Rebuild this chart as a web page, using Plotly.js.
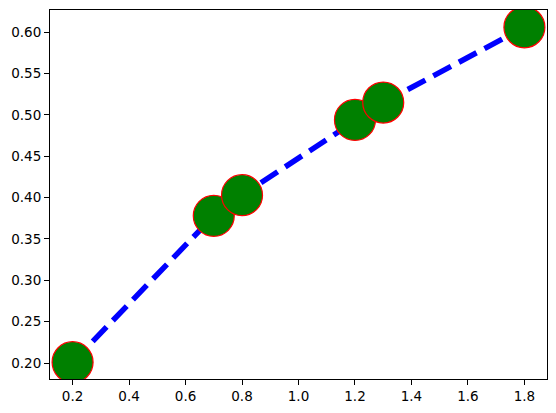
<!DOCTYPE html>
<html>
<head>
<meta charset="utf-8">
<script src="https://cdn.plot.ly/plotly-3.0.1.min.js"></script>
<style>html,body{margin:0;padding:0;background:#fff;}#chart{width:556px;height:413px;}</style>
</head>
<body>
<div id="chart"></div>
<script>
const xValues = [0.2, 0.7, 0.8, 1.2, 1.3, 1.8];
const yValues = [0.201, 0.378, 0.403, 0.494, 0.515, 0.606];
const xTickVals = [0.2, 0.4, 0.6, 0.8, 1.0, 1.2, 1.4, 1.6, 1.8];
const yTickVals = [0.20, 0.25, 0.30, 0.35, 0.40, 0.45, 0.50, 0.55, 0.60];

const trace = {
  x: xValues,
  y: yValues,
  type: 'scatter',
  mode: 'lines+markers',
  line: {color: 'blue', width: 5.5, dash: '20px,9px'},
  marker: {color: 'green', size: 41, line: {color: 'red', width: 1.2}},
  showlegend: false
};

const axisCommon = {
  showgrid: false,
  zeroline: false,
  showline: true,
  linecolor: 'black',
  linewidth: 1,
  mirror: true,
  ticks: 'outside',
  ticklen: 5,
  tickwidth: 1,
  tickcolor: 'black',
  tickfont: {family: 'DejaVu Sans', size: 13.5, color: 'black'}
};

const layout = {
  width: 556,
  height: 413,
  margin: {l: 50, r: 9, t: 10, b: 34},
  paper_bgcolor: 'white',
  plot_bgcolor: 'white',
  xaxis: Object.assign({}, axisCommon, {
    range: [0.12, 1.88],
    tickvals: xTickVals,
    tickformat: '.1f'
  }),
  yaxis: Object.assign({}, axisCommon, {
    range: [0.1807, 0.6269],
    tickvals: yTickVals,
    tickformat: '.2f'
  })
};

Plotly.newPlot('chart', [trace], layout, {displayModeBar: false, staticPlot: true});
</script>
</body>
</html>
